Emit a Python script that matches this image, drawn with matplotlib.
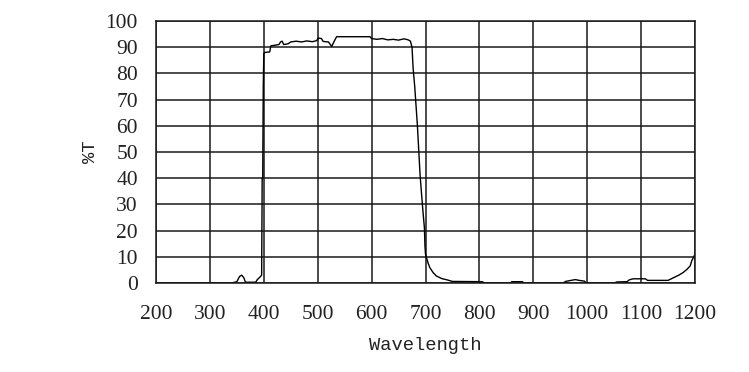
import numpy as np
import matplotlib
matplotlib.use("Agg")
import matplotlib.pyplot as plt

# transmission curve
wavelength = [200, 340, 350, 355, 359, 363, 366, 385, 388, 393, 396, 397, 398, 399, 400,
              402, 411, 413, 428, 431, 434, 437, 445, 450, 460, 470, 480, 490, 498, 501,
              507, 510, 520, 526, 530, 535, 597, 600, 610, 620, 630, 640, 650, 660, 668,
              672, 675, 677, 680, 685, 690, 695, 698, 699, 700, 702, 705, 708, 714, 720,
              730, 740, 750, 805, 810, 858, 860, 880, 882, 955, 960, 970, 978, 985, 995,
              998, 1050, 1055, 1074, 1078, 1085, 1108, 1112, 1150, 1160, 1170, 1178, 1185,
              1191, 1194, 1197, 1200]
transmission = [0, 0, 0.5, 2.5, 3, 2, 0.3, 0.3, 1.3, 2.3, 3, 40, 40, 75, 87.5,
                88, 88.2, 90.5, 91, 92, 92.3, 91, 91.3, 92, 92.3, 92, 92.4, 92.1, 92.5, 93.5,
                93.3, 92.2, 92, 90.3, 92, 94, 94, 93.3, 93, 93.3, 92.8, 93, 92.7, 93.2, 92.8,
                92.3, 90, 82, 75, 60, 41, 28, 21, 14, 11, 9.5, 7.5, 5.9, 4, 2.7,
                1.7, 1.2, 0.6, 0.5, 0, 0, 0.5, 0.5, 0, 0, 0.6, 1, 1.3, 1, 0.7,
                0, 0, 0.4, 0.5, 1.2, 1.6, 1.6, 1, 1, 2, 3, 4, 5.2,
                6.5, 8.5, 9.7, 11]

x_ticks = list(range(200, 1201, 100))
y_ticks = list(range(0, 101, 10))

fig = plt.figure(figsize=(7.49, 3.72), dpi=100)
ax = fig.add_axes([156 / 749, 1 - 283 / 372, (695 - 156) / 749, (283 - 21) / 372])

ax.plot(wavelength, transmission, color="black", linewidth=1.0)

ax.set_xlim(200, 1200)
ax.set_ylim(0, 100)
ax.set_xticks(x_ticks)
ax.set_yticks(y_ticks)
ax.grid(True, color="#1a1a1a", linewidth=1.1)
ax.set_axisbelow(True)
for s in ax.spines.values():
    s.set_color("#1a1a1a")
    s.set_linewidth(1.1)

ax.tick_params(length=0, labelsize=15.5)
ax.tick_params(axis="x", pad=16)
ax.tick_params(axis="y", pad=13)
for lab in ax.get_xticklabels() + ax.get_yticklabels():
    lab.set_family("Liberation Serif")
    lab.set_color("#222222")

ax.set_xlabel("Wavelength", family="Liberation Mono", fontsize=13.5, color="#222222", labelpad=9)
ax.set_ylabel("%T", family="Liberation Mono", fontsize=13.5, color="#222222", labelpad=5)

fig.savefig("out.png", dpi=100)
